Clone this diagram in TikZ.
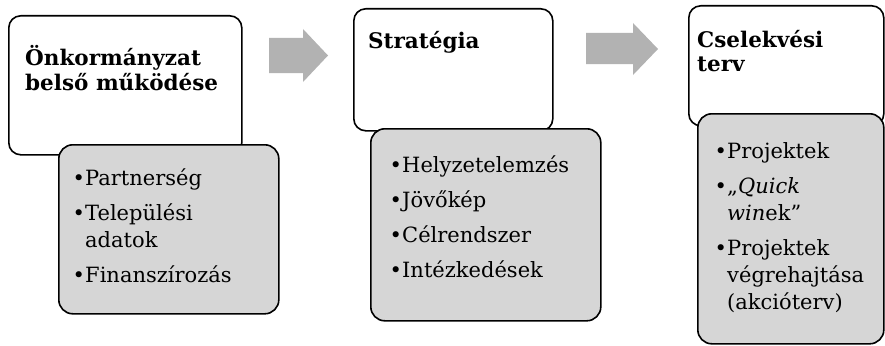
\documentclass[tikz,border=0pt]{standalone}
\usepackage{fontspec}
\setmainfont{DejaVu Serif}
\usepackage{tikz}
\usetikzlibrary{positioning}
\definecolor{boxgray}{RGB}{214,214,214}
\definecolor{arrowgray}{RGB}{178,178,178}
\tikzset{
	whitebox/.style={draw, line width=1.6pt, rounded corners=12pt, fill=white, anchor=north west, inner sep=0pt},
	graybox/.style={draw, line width=1.6pt, rounded corners=14pt, fill=boxgray, anchor=north west, inner sep=0pt},
	titletext/.style={anchor=north west, inner sep=0pt, align=left, font=\fontsize{21.5}{24}\selectfont\bfseries},
	listtext/.style={anchor=north west, inner sep=0pt, align=left, font=\fontsize{21}{27}\selectfont}
}
\newcommand{\itm}{\makebox[13pt][c]{\textbullet}}
\newcommand{\cont}{\hspace*{13pt}}

\begin{document}
\begin{tikzpicture}[x=1pt,y=-1pt]
		
		\useasboundingbox (0,0) rectangle (885,345);
		
		\node[whitebox, minimum width=233pt, minimum height=139pt] (own) at (8,15) {};
		\node[graybox, minimum width=220pt, minimum height=169pt] (ownList) at (58,144) {};
		\node[titletext] (ownTitle) at ([shift={(17,30)}]own.north west) {\strut Önkormányzat\\belső működése};
		\node[listtext] (ownItems) at ([shift={(14,22)}]ownList.north west)
			{\strut\itm Partnerség\\[8pt]\itm Települési\\\cont adatok\\[8pt]\itm Finanszírozás};
		
		\fill[arrowgray] (269,38) -- (303,38) -- (303,29) -- (328,55.5) -- (303,82) -- (303,73) -- (269,73) -- cycle;
		
		\node[whitebox, minimum width=199pt, minimum height=122pt] (strat) at (353,8) {};
		\node[graybox, minimum width=230pt, minimum height=192pt] (stratList) at (370,128) {};
		\node[titletext] (stratTitle) at ([shift={(15,23)}]strat.north west) {\strut Stratégia};
		\node[listtext] (stratItems) at ([shift={(19,25)}]stratList.north west)
			{\strut\itm Helyzetelemzés\\[8pt]\itm Jövőkép\\[8pt]\itm Célrendszer\\[8pt]\itm Intézkedések};
		
		\fill[arrowgray] (586,33) -- (633,33) -- (633,23) -- (658,49) -- (633,75) -- (633,64) -- (586,64) -- cycle;
		
		\node[whitebox, minimum width=195pt, minimum height=120pt] (action) at (688,5) {};
		\node[graybox, minimum width=186pt, minimum height=230pt] (actionList) at (697,113) {};
		\node[titletext] (actionTitle) at ([shift={(9,25)}]action.north west) {\strut Cselekvési\\terv};
		\node[listtext] (actionItems) at ([shift={(17,26)}]actionList.north west)
			{\strut\itm Projektek\\[8pt]\itm „\textit{Quick}\\\cont\textit{win}ek”\\[8pt]\itm Projektek\\\cont végrehajtása\\\cont (akcióterv)};
	\end{tikzpicture}
\end{document}
